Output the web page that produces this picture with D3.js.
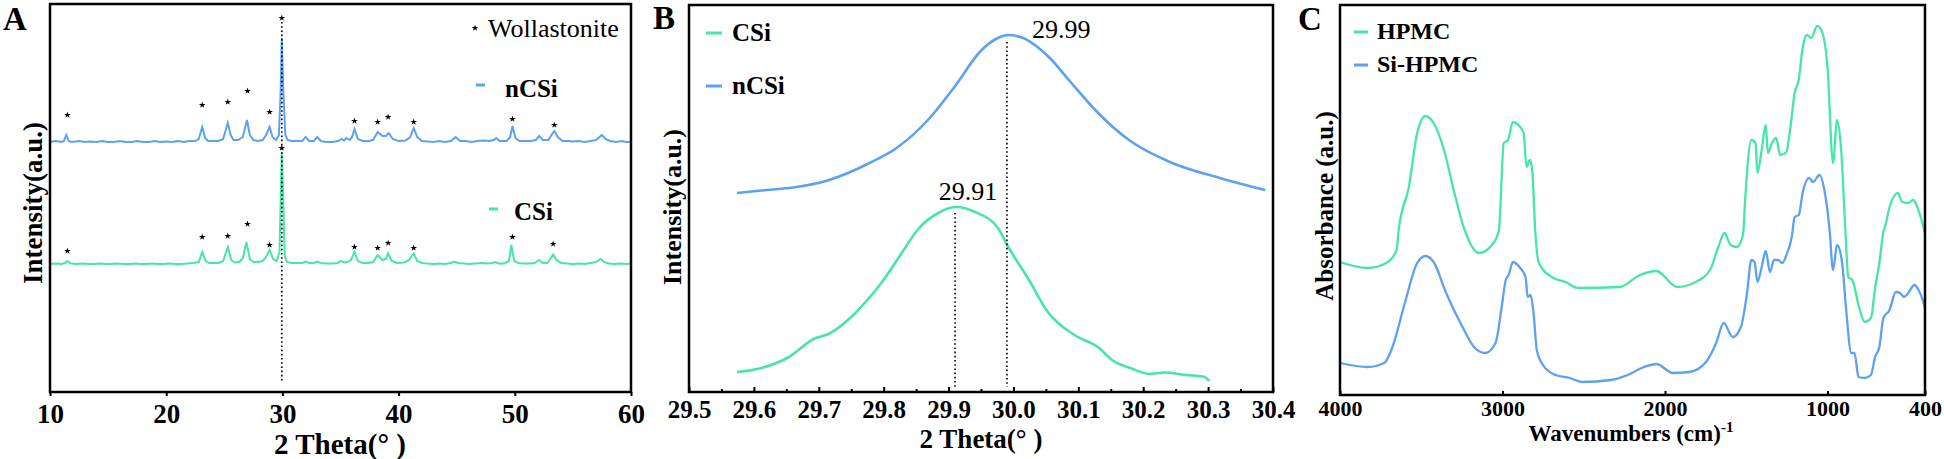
<!DOCTYPE html>
<html><head><meta charset="utf-8">
<script src="https://cdn.jsdelivr.net/npm/d3@7"></script>
<style>
body{margin:0;background:#fff}
</style>
</head><body>
<svg id="c" width="1944" height="459"></svg>
<script>
// ---------------- DATA ----------------
// Panel A: XRD patterns (2θ, stacked intensity a.u.)
const nCSiA = [[10,250],[10.5,251],[11,250],[11.2,251],[11.4,257],[11.6,251],[11.9,250],[12.5,251],[13,250],[13.5,250.5],[14,250],[14.5,251],[15,250],[15.5,250],[16,251],[16.5,250],[17,250],[17.5,251],[18,250],[18.5,250],[19,251],[19.5,250],[20,250.5],[20.5,250],[21,251],[21.5,250],[22,251],[22.5,251],[22.8,253],[23.1,265],[23.35,254],[23.6,251],[24,251],[24.5,251],[24.9,253],[25.1,261],[25.3,269],[25.55,257],[25.8,252],[26.2,252],[26.6,255],[26.95,272],[27.2,257],[27.5,252],[27.9,251],[28.3,252],[28.6,257],[28.9,265],[29.15,255],[29.45,252],[29.7,257],[29.85,300],[29.95,354],[30.08,300],[30.25,257],[30.45,252],[30.8,251],[31.3,251],[31.7,251],[32.0,255],[32.3,251],[32.7,251],[33.0,255],[33.3,251],[33.8,250],[34.3,250],[34.8,251],[35.1,253],[35.3,251.5],[35.5,254],[35.8,252],[36.0,255],[36.2,263],[36.5,253],[36.9,251],[37.4,251],[37.8,252],[38.2,260],[38.6,256],[38.9,256],[39.15,259],[39.5,253],[40,251],[40.6,251.5],[41.0,255],[41.3,264],[41.6,255],[42,251],[42.5,250.5],[43,250],[43.5,251],[44,250],[44.5,251],[44.9,255],[45.3,251],[45.8,251],[46.3,250],[46.8,251],[47.3,251.5],[47.8,251],[48.2,252],[48.4,254],[48.7,251],[49.3,251],[49.6,255],[49.8,266],[50.05,254],[50.4,251],[50.9,251],[51.4,251],[51.8,252],[52.1,256],[52.4,252],[52.9,252],[53.15,257],[53.4,261],[53.7,255],[54.1,251],[54.6,251],[55,250.5],[55.5,251],[56,250],[56.5,251],[57,252],[57.5,257],[57.8,253],[58.2,251],[58.7,250],[59.2,251],[59.6,250],[60,250]];
const CSiA = [[10,128],[10.5,128.5],[11,128],[11.3,129],[11.5,131],[11.8,128.5],[12.3,128],[12.8,128.5],[13.3,128],[13.8,128],[14.3,128.5],[14.8,128],[15.3,128],[15.8,128.5],[16.3,128],[16.8,128],[17.3,128.5],[17.8,128],[18.3,128],[18.8,128.5],[19.3,128],[19.8,128],[20.3,128.5],[20.8,128],[21.3,128],[21.8,128.5],[22.3,129],[22.8,130],[23.1,140],[23.4,131],[23.7,129],[24.1,129],[24.5,129],[24.9,131],[25.3,145],[25.6,132],[25.9,129.5],[26.3,130],[26.6,134],[26.9,150],[27.2,133],[27.5,130],[27.9,130],[28.3,131],[28.6,135],[28.9,142],[29.2,133],[29.5,131],[29.75,140],[29.87,200],[29.95,240],[30.05,200],[30.2,136],[30.4,130],[30.8,129],[31.3,129],[31.7,129],[32.0,130.5],[32.3,129],[32.7,129],[33.0,130.5],[33.3,129],[33.8,128.5],[34.3,128.5],[34.8,129],[35.0,131],[35.3,129.5],[35.6,130],[35.9,132],[36.2,140],[36.5,131],[36.9,129],[37.4,129],[37.8,130],[38.2,137],[38.6,132],[38.9,133],[39.1,138.5],[39.4,131],[39.9,129],[40.5,129.5],[40.9,132],[41.3,138.5],[41.6,131],[42,129],[42.5,128.5],[43,128],[43.5,128.5],[44,128],[44.5,129],[44.8,130.5],[45.1,129],[45.6,128.5],[46.1,128],[46.6,128.5],[47.1,129],[47.6,128.5],[48.1,129],[48.3,130],[48.6,128.5],[49.1,128.5],[49.5,131],[49.7,147],[49.95,131],[50.3,129],[50.8,128.5],[51.3,128.5],[51.7,129],[52.1,132],[52.4,129],[52.8,129],[53.05,133],[53.3,137.5],[53.6,132],[54,129],[54.5,128.5],[55,128],[55.5,128.5],[56,128],[56.5,129],[57,130],[57.4,133],[57.7,130],[58.1,128.5],[58.6,128],[59.1,128.5],[59.6,128],[60,128.5]];
const starsNCSiA = [[11.5,277],[23.1,287],[25.3,290],[27.0,301],[28.9,280],[29.95,374],[36.2,271],[38.2,270],[39.1,275],[41.3,270],[49.8,273],[53.4,267]];
const starsCSiA  = [[11.5,141],[23.1,155],[25.3,156],[27.0,168],[28.9,147],[29.95,244],[36.2,145],[38.2,144],[39.1,149],[41.3,144],[49.8,155],[53.3,148]];
const dottedA = [29.95, 10, 370];
const ticksA = [10,20,30,40,50,60];

// Panel B: zoom of main peak
const nCSiB = [[29.574,199],[29.62,202],[29.66,204.5],[29.711,211],[29.745,219],[29.775,228],[29.82,244],[29.871,274],[29.909,305],[29.951,342],[29.973,353],[29.992,357],[30.015,354],[30.037,345],[30.056,334],[30.088,310],[30.126,282],[30.178,252],[30.241,230],[30.318,214],[30.388,202]];
const CSiB = [[29.574,20],[29.612,24],[29.654,35],[29.692,53],[29.715,58],[29.75,75],[29.772,90],[29.794,107],[29.833,144],[29.852,162],[29.884,179],[29.912,185],[29.941,180],[29.976,164],[29.992,145],[30.024,112],[30.053,80],[30.094,57],[30.13,45],[30.152,32],[30.184,23],[30.21,18],[30.232,19.5],[30.267,17],[30.293,15.5],[30.302,11]];
const peakLabelsB = [["29.99",29.99,350],["29.91",29.91,179]];
const ticksB = [29.5,29.6,29.7,29.8,29.9,30.0,30.1,30.2,30.3,30.4];
const minorTicksB = [29.55,29.65,29.75,29.85,29.95,30.05,30.15,30.25,30.35];

// Panel C: FTIR (wavenumber, absorbance a.u., stacked)
const HPMC = [[4000,133],[3830,127],[3715,132],[3652,145],[3639,165],[3576,208],[3525,262],[3474,279],[3424,272],[3360,245],[3296,202],[3233,165],[3144,142],[3056,152],[3022,165],[2992,252],[2966,255],[2936,273],[2903,270],[2870,262],[2852,228],[2832,235],[2817,225],[2799,165],[2776,132],[2687,117],[2611,113],[2535,107],[2281,108],[2154,120],[2053,124],[1925,108],[1824,112],[1723,125],[1672,148],[1634,162],[1596,150],[1558,148],[1520,160],[1507,195],[1469,255],[1443,252],[1431,222],[1405,245],[1380,270],[1367,242],[1342,252],[1316,257],[1291,240],[1253,243],[1228,268],[1202,302],[1177,315],[1152,348],[1126,360],[1101,357],[1063,369],[1038,365],[1000,328],[966,232],[941,275],[916,245],[890,165],[872,118],[847,115],[809,90],[771,73],[733,77],[707,107],[681,132],[656,163],[643,170],[618,188],[567,202],[541,193],[503,192],[473,195],[452,190],[427,178],[400,162]];
const SiHPMC = [[4000,32],[3830,28],[3728,32],[3677,48],[3601,92],[3525,132],[3474,139],[3424,133],[3347,102],[3246,68],[3170,47],[3106,42],[3043,52],[3005,88],[2980,115],[2962,120],[2936,133],[2891,127],[2858,118],[2845,98],[2827,100],[2809,82],[2789,45],[2751,30],[2675,20],[2586,17],[2510,13],[2332,15],[2230,20],[2129,28],[2053,31],[1951,22],[1850,23],[1748,33],[1685,52],[1639,72],[1583,58],[1533,68],[1495,102],[1469,135],[1449,133],[1431,113],[1405,128],[1380,144],[1354,123],[1329,135],[1304,135],[1278,132],[1253,140],[1220,158],[1202,178],[1177,180],[1152,203],[1113,217],[1088,213],[1050,220],[1012,198],[987,165],[966,125],[941,150],[910,132],[885,85],[854,42],[834,42],[809,18],[771,17],[733,20],[707,38],[681,48],[656,77],[618,85],[580,103],[554,102],[529,98],[503,102],[465,110],[440,105],[414,95],[400,87]];
const ticksC = [4000,3000,2000,1000,400];

const GREEN = "#47E6A6", BLUE = "#5DA1F1";
const SERIF = "'Liberation Serif','Times New Roman',serif";

// ---------------- DRAW ----------------
const svg = d3.select("#c");
svg.append("rect").attr("width",1944).attr("height",459).attr("fill","#fff");

function frame(x,y,w,h){
  svg.append("rect").attr("x",x).attr("y",y).attr("width",w).attr("height",h)
    .attr("fill","none").attr("stroke","#000").attr("stroke-width",2.5);
}
function txt(s,x,y,size,weight,anchor,rot){
  const t = svg.append("text").attr("x",x).attr("y",y)
    .attr("font-family",SERIF).style("font-family",SERIF)
    .style("font-size",size+"px").attr("fill","#000")
    .style("font-weight",weight||"normal").attr("text-anchor",anchor||"start")
    .style("white-space","pre").text(s);
  if(rot) t.attr("transform",`rotate(${rot},${x},${y})`);
  return t;
}
function legendDash(x1,x2,y,color){
  svg.append("line").attr("x1",x1).attr("x2",x2).attr("y1",y).attr("y2",y)
    .attr("stroke",color).attr("stroke-width",3);
}
function styleAxis(g,size,base){
  g.attr("font-family",SERIF);
  g.select(".domain").remove();
  g.selectAll(".tick line").attr("stroke","#000").attr("stroke-width",2);
  g.selectAll(".tick text").attr("y",base).attr("dy",null)
    .style("font-size",size+"px").style("font-weight","bold")
    .style("font-family",SERIF).attr("fill","#000");
}

// ===== Panel A =====
const xA = d3.scaleLinear().domain([10,60]).range([50,631]);
const yA = d3.scaleLinear().domain([0,388]).range([392,4]);
const lineA = d3.line().x(d=>xA(d[0])).y(d=>yA(d[1]));
svg.append("path").datum(CSiA).attr("d",lineA).attr("fill","none").attr("stroke",GREEN).attr("stroke-width",2);
svg.append("path").datum(nCSiA).attr("d",lineA).attr("fill","none").attr("stroke",BLUE).attr("stroke-width",2);
svg.append("line").attr("x1",xA(dottedA[0])).attr("x2",xA(dottedA[0]))
  .attr("y1",yA(dottedA[2])).attr("y2",yA(dottedA[1]))
  .attr("stroke","#000").attr("stroke-width",1.6).attr("stroke-dasharray","1.6,2.6");
const star = d3.symbol().type(d3.symbolStar).size(14);
svg.selectAll(".sa").data(starsNCSiA.concat(starsCSiA)).join("path")
  .attr("d",star).attr("fill","#000")
  .attr("transform",d=>`translate(${xA(d[0])},${yA(d[1])})`);
const gA = svg.append("g").attr("transform","translate(0,392)")
  .call(d3.axisBottom(xA).tickValues(ticksA).tickSize(4).tickSizeOuter(0));
styleAxis(gA,27,31);
frame(50,4,581,388);
svg.append("path").attr("d",star).attr("fill","#000").attr("transform","translate(475,28)");
txt("Wollastonite",488,37,26,"normal");
legendDash(476,485,85,BLUE); txt("nCSi",505,97,25,"bold");
legendDash(489,498,209,GREEN); txt("CSi",514,220,25,"bold");
txt("2 Theta(° )",340,454,29,"bold","middle");
txt("Intensity(a.u.)",42,203,27,"bold","middle",-90);
txt("A",3,30,33,"bold");

// ===== Panel B =====
const xB = d3.scaleLinear().domain([29.5,30.4]).range([689,1273]);
const yB = d3.scaleLinear().domain([0,387]).range([392,5]);
const lineB = d3.line().x(d=>xB(d[0])).y(d=>yB(d[1])).curve(d3.curveMonotoneX);
svg.append("path").datum(nCSiB).attr("d",lineB).attr("fill","none").attr("stroke",BLUE).attr("stroke-width",2.6);
svg.append("path").datum(CSiB).attr("d",lineB).attr("fill","none").attr("stroke",GREEN).attr("stroke-width",2.6);
peakLabelsB.forEach(p=>{
  svg.append("line").attr("x1",xB(p[1])).attr("x2",xB(p[1])).attr("y1",yB(p[2])).attr("y2",yB(5))
    .attr("stroke","#000").attr("stroke-width",1.6).attr("stroke-dasharray","1.6,2.6");
});
txt(peakLabelsB[0][0],1032,38,26,"normal");
txt(peakLabelsB[1][0],968,200,26,"normal","middle");
const gBm = svg.append("g").attr("transform","translate(0,392)")
  .call(d3.axisBottom(xB).tickValues(minorTicksB).tickSize(-3).tickSizeOuter(0).tickFormat(""));
gBm.select(".domain").remove();
gBm.selectAll(".tick line").attr("stroke","#000").attr("stroke-width",2);
const gB = svg.append("g").attr("transform","translate(0,392)")
  .call(d3.axisBottom(xB).tickValues(ticksB).tickSize(-5).tickSizeOuter(0).tickFormat(d3.format(".1f")));
styleAxis(gB,25,26);
frame(689,5,584,387);
legendDash(706,722,33,GREEN); txt("CSi",732,41,25,"bold");
legendDash(706,722,86,BLUE); txt("nCSi",732,94,25,"bold");
txt("2 Theta(° )",981,448,27,"bold","middle");
txt("Intensity(a.u.)",681,207,26,"bold","middle",-90);
txt("B",653,29,33,"bold");

// ===== Panel C =====
const xC = d3.scaleLinear().domain([4000,400]).range([1340,1925]);
const yC = d3.scaleLinear().domain([0,390]).range([395,5]);
const lineC = d3.line().x(d=>xC(d[0])).y(d=>yC(d[1])).curve(d3.curveMonotoneX);
svg.append("path").datum(HPMC).attr("d",lineC).attr("fill","none").attr("stroke",GREEN).attr("stroke-width",2.3);
svg.append("path").datum(SiHPMC).attr("d",lineC).attr("fill","none").attr("stroke",BLUE).attr("stroke-width",2.3);
const gC = svg.append("g").attr("transform","translate(0,395)")
  .call(d3.axisBottom(xC).tickValues(ticksC).tickSize(-4).tickSizeOuter(0).tickFormat(d3.format("d")));
styleAxis(gC,22,21);
frame(1340,5,585,390);
legendDash(1354,1368,32,GREEN); txt("HPMC",1377,39,24,"bold");
legendDash(1354,1368,65,BLUE); txt("Si-HPMC",1377,72,24,"bold");
const tC = txt("Wavenumbers (cm)",1631,441,23,"bold","middle");
tC.append("tspan").attr("dy",-9).style("font-size","15px").text("-1");
txt("Absorbance (a.u.)",1333,206,25,"bold","middle",-90);
txt("C",1298,30,33,"bold");
</script>
</body></html>
